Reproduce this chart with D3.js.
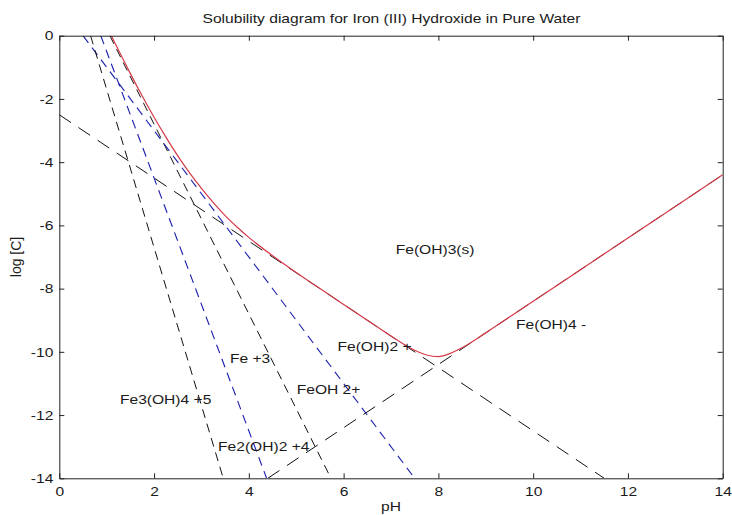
<!DOCTYPE html>
<html>
<head>
<meta charset="utf-8">
<script src="https://cdn.jsdelivr.net/npm/d3@7"></script>
<style>
  html, body { margin: 0; padding: 0; background: #fff; }
  svg { display: block; }
  text { font-family: "Liberation Sans", Arial, sans-serif; fill: #1a1a1a; }
</style>
</head>
<body>
<svg id="chart" width="732" height="515"></svg>
<script>
// ---------------- data ----------------
const phTicks = [0, 2, 4, 6, 8, 10, 12, 14];
const logTicks = [0, -2, -4, -6, -8, -10, -12, -14];

// total dissolved Fe(III) (red curve)
const totalPH  = [1.10, 1.15, 1.25, 1.375, 1.50, 1.75, 2.00, 2.25, 2.50, 2.75, 3.00, 3.25, 3.50, 3.75, 4.00, 4.50, 5.00, 5.50, 6.00, 6.50, 7.00, 7.50, 7.75, 8.00, 8.25, 8.50, 9.00, 9.50, 10.00, 11.00, 12.00, 13.00, 14.00];
const totalLog = [0.00, -0.16, -0.46, -0.83, -1.20, -1.91, -2.58, -3.21, -3.80, -4.34, -4.83, -5.28, -5.69, -6.05, -6.38, -6.96, -7.49, -8.00, -8.50, -9.00, -9.50, -9.95, -10.10, -10.15, -10.05, -9.87, -9.40, -8.90, -8.40, -7.40, -6.40, -5.40, -4.40];

// individual species (dashed straight lines, end points)
const speciesNames = ["Fe3+", "FeOH2+", "Fe(OH)2+", "Fe(OH)4-", "Fe2(OH)2 4+", "Fe3(OH)4 5+"];
const speciesPH    = [[1.067, 5.733], [0.5, 7.5], [0.0, 11.5], [4.4, 14.0], [0.875, 4.375], [0.66, 3.46]];
const speciesLog   = [[0, -14], [0, -14], [-2.5, -14], [-14, -4.4], [0, -14], [0, -14]];
const speciesColor = ["black", "blue", "black", "black", "blue", "black"];

// text labels
const labelText = ["Fe(OH)3(s)", "Fe(OH)4 -", "Fe(OH)2 +", "Fe +3", "FeOH 2+", "Fe3(OH)4 +5", "Fe2(OH)2 +4"];
const labelPH   = [7.10, 9.64, 5.87, 3.60, 5.01, 1.28, 3.35];
const labelLog  = [-6.75, -9.12, -9.82, -10.21, -11.18, -11.52, -13.00];

const titleText = "Solubility diagram for Iron (III) Hydroxide in Pure Water";
const xLabel = "pH";
const yLabel = "log [C]";

// ---------------- layout ----------------
const W = 732, H = 515;
const M = { left: 59.3, right: 722.7, top: 35.7, bottom: 478.3 };
const SX = 1.2;      // horizontal stretch of text
const FS = 13;

const colorMap = { black: "#111", blue: "#1f22b0", red: "#d63a48" };
const dashMap = { black: "9,6", blue: "9,6" };

const svg = d3.select("#chart");
svg.append("rect").attr("width", W).attr("height", H).attr("fill", "#fff");

const x = d3.scaleLinear().domain([0, 14]).range([M.left, M.right]);
const y = d3.scaleLinear().domain([-14, 0]).range([M.bottom, M.top]);

svg.append("clipPath").attr("id", "plotClip")
  .append("rect")
  .attr("x", M.left).attr("y", M.top)
  .attr("width", M.right - M.left).attr("height", M.bottom - M.top);

const plot = svg.append("g").attr("clip-path", "url(#plotClip)");
const line = d3.line().x(d => x(d[0])).y(d => y(d[1]));

// species lines
speciesNames.forEach((name, i) => {
  const pts = speciesPH[i].map((p, j) => [p, speciesLog[i][j]]);
  const slope = Math.abs((pts[1][1] - pts[0][1]) / (pts[1][0] - pts[0][0]));
  plot.append("path")
    .datum(pts)
    .attr("d", line)
    .attr("fill", "none")
    .attr("stroke", colorMap[speciesColor[i]])
    .attr("stroke-width", speciesColor[i] === "blue" ? 1.15 : 1)
    .attr("stroke-dasharray", slope <= 1.01 ? "14,9" : dashMap[speciesColor[i]]);
});

// total curve
const totalPts = totalPH.map((p, i) => [p, totalLog[i]]);
plot.append("path")
  .datum(totalPts)
  .attr("d", d3.line().x(d => x(d[0])).y(d => y(d[1])).curve(d3.curveMonotoneX))
  .attr("fill", "none")
  .attr("stroke", colorMap.red)
  .attr("stroke-width", 1.2);

// ---------------- axes ----------------
const fmt = d => String(d);

function styleAxis(g) {
  g.select(".domain").attr("stroke", "#222").attr("stroke-width", 1);
  g.selectAll(".tick line").attr("stroke", "#222").attr("stroke-width", 1);
  g.selectAll(".tick text")
    .attr("font-size", FS)
    .attr("font-family", "'Liberation Sans', Arial, sans-serif")
    .attr("fill", "#1a1a1a");
}

const gx = svg.append("g").attr("transform", `translate(0,${M.bottom})`)
  .call(d3.axisBottom(x).tickValues(phTicks).tickSizeInner(-5).tickSizeOuter(0).tickPadding(8.5).tickFormat(fmt));
styleAxis(gx);
gx.selectAll(".tick text").attr("transform", `scale(${SX},1)`);

const gy = svg.append("g").attr("transform", `translate(${M.left},0)`)
  .call(d3.axisLeft(y).tickValues(logTicks).tickSizeInner(-5).tickSizeOuter(0).tickPadding(5).tickFormat(fmt));
styleAxis(gy);
gy.selectAll(".tick text").attr("transform", `scale(${SX},1)`);

const gt = svg.append("g").attr("transform", `translate(0,${M.top})`)
  .call(d3.axisTop(x).tickValues(phTicks).tickSizeInner(-5).tickSizeOuter(0).tickFormat(""));
styleAxis(gt);

const gr = svg.append("g").attr("transform", `translate(${M.right},0)`)
  .call(d3.axisRight(y).tickValues(logTicks).tickSizeInner(-5).tickSizeOuter(0).tickFormat(""));
styleAxis(gr);

// ---------------- texts ----------------
function stretchedText(px, py, str, anchor) {
  return svg.append("text")
    .attr("transform", `translate(${px},${py}) scale(${SX},1)`)
    .attr("text-anchor", anchor)
    .attr("font-size", FS)
    .text(str);
}

stretchedText((M.left + M.right) / 2 + 0.5, 23, titleText, "middle");
stretchedText((M.left + M.right) / 2, 511, xLabel, "middle");

svg.append("text")
  .attr("transform", `translate(21,${(M.top + M.bottom) / 2}) rotate(-90)`)
  .attr("text-anchor", "middle")
  .attr("font-size", 14)
  .text(yLabel);

labelText.forEach((t, i) => {
  svg.append("text")
    .attr("transform", `translate(${x(labelPH[i])},${y(labelLog[i])}) scale(${SX},1)`)
    .attr("dy", "0.35em")
    .attr("text-anchor", "start")
    .attr("font-size", FS)
    .text(t);
});
</script>
</body>
</html>
